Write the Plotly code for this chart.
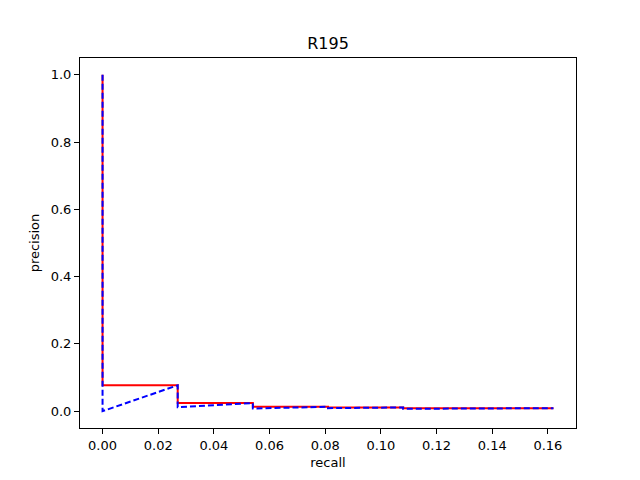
import plotly.graph_objects as go

# interpolated precision (red, solid)
recall_interp = [0.0, 0.0, 0.027, 0.027, 0.054, 0.054, 0.081, 0.081, 0.108, 0.108, 0.162]
precision_interp = [1.0, 0.077, 0.077, 0.024, 0.024, 0.013, 0.013, 0.011, 0.011, 0.009, 0.009]

# raw precision (blue, dashed)
recall_raw = [0.0, 0.0, 0.027, 0.027, 0.054, 0.054, 0.081, 0.081, 0.108, 0.108, 0.162]
precision_raw = [1.0, 0.0, 0.077, 0.012, 0.024, 0.008, 0.013, 0.009, 0.011, 0.007, 0.009]

xticks = [0.0, 0.02, 0.04, 0.06, 0.08, 0.10, 0.12, 0.14, 0.16]
yticks = [0.0, 0.2, 0.4, 0.6, 0.8, 1.0]

fig = go.Figure()
fig.add_trace(go.Scatter(x=recall_interp, y=precision_interp, mode="lines",
                         line=dict(color="red", width=2)))
fig.add_trace(go.Scatter(x=recall_raw, y=precision_raw, mode="lines",
                         line=dict(color="blue", width=2, dash="6px,3px")))

axis_style = dict(showline=True, linecolor="black", linewidth=1, mirror=True,
                  ticks="outside", ticklen=5, tickcolor="black", showgrid=False,
                  zeroline=False, tickfont=dict(size=13, color="black"))

# the page body adds an 8px offset, so the margins are pulled in by 8px
fig.update_layout(
    width=640, height=480,
    margin=dict(l=72, r=72, t=50, b=60),
    paper_bgcolor="white", plot_bgcolor="white",
    font=dict(family="DejaVu Sans", color="black"),
    showlegend=False,
    title=dict(text="R195", x=0.5, xanchor="center", y=0.927, yanchor="middle",
               xref="paper", font=dict(size=16)),
    xaxis=dict(range=[-0.0081, 0.1701], tickvals=xticks,
               ticktext=[f"{v:.2f}" for v in xticks],
               title=dict(text="recall", font=dict(size=13), standoff=6), **axis_style),
    yaxis=dict(range=[-0.05, 1.05], tickvals=yticks,
               ticktext=[f"{v:.1f}" for v in yticks],
               title=dict(text="precision", font=dict(size=13), standoff=8), **axis_style),
)

fig.write_html("out.html")
